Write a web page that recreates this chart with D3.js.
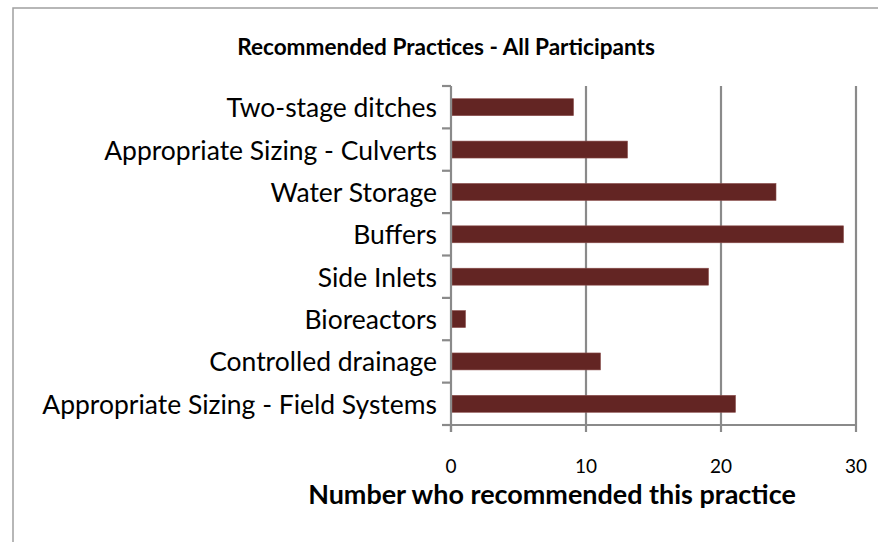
<!DOCTYPE html>
<html>
<head>
<meta charset="utf-8">
<script src="https://cdn.jsdelivr.net/npm/d3@7"></script>
<style>
  body { margin: 0; background: #fff; }
  svg { display: block; }
  text { font-family: Lato, "Open Sans", sans-serif; fill: #000; }
</style>
</head>
<body>
<svg id="chart"></svg>
<script>
var W = 878, H = 542;

// data, top to bottom as drawn
var practices = ["Two-stage ditches", "Appropriate Sizing - Culverts", "Water Storage", "Buffers",
                 "Side Inlets", "Bioreactors", "Controlled drainage", "Appropriate Sizing - Field Systems"];
var counts = [9, 13, 24, 29, 19, 1, 11, 21];
var xTicks = [0, 10, 20, 30];
var chartTitle = "Recommended Practices - All Participants";
var xTitle = "Number who recommended this practice";

var pLeft = 451, pRight = 856, pTop = 86, pBottom = 425;
var gridCol = "#8a8a8a";

var svg = d3.select("#chart").attr("width", W).attr("height", H);

// outer frame (runs off the right and bottom edge)
svg.append("rect").attr("x", 13).attr("y", 8).attr("width", W + 20).attr("height", H + 20)
  .attr("fill", "#fff").attr("stroke", "#a0a0a0").attr("stroke-width", 1.5);

var x = d3.scaleLinear().domain([0, 30]).range([pLeft, pRight]);
var y = d3.scaleBand().domain(practices).range([pTop, pBottom]).paddingInner(0.6).paddingOuter(0.3);

// fit helper: scale font size so the text gets a target width
function fit(sel, target) {
  var fs = parseFloat(sel.style("font-size"));
  var len = sel.node().getComputedTextLength();
  sel.style("font-size", (fs * target / len) + "px");
}

// vertical gridlines
svg.append("g").selectAll("line").data(xTicks.slice(1)).join("line")
  .attr("x1", d => x(d)).attr("x2", d => x(d)).attr("y1", pTop).attr("y2", pBottom)
  .attr("stroke", gridCol).attr("stroke-width", 2.2);

// bars
svg.append("g").selectAll("rect").data(practices).join("rect")
  .attr("x", x(0) + 1)
  .attr("y", d => y(d))
  .attr("width", (d, i) => x(counts[i]) - x(0))
  .attr("height", y.bandwidth())
  .attr("fill", "#632523")
  .attr("stroke", "#8a4d4b").attr("stroke-width", 0.6);

// y axis line + boundary ticks
var bounds = d3.range(practices.length + 1).map(i => pTop + i * (pBottom - pTop) / practices.length);
var gy = svg.append("g");
gy.append("line").attr("x1", pLeft).attr("x2", pLeft).attr("y1", pTop).attr("y2", pBottom + 7)
  .attr("stroke", gridCol).attr("stroke-width", 2.2);
gy.selectAll("line.t").data(bounds).join("line").attr("class", "t")
  .attr("x1", pLeft - 9).attr("x2", pLeft).attr("y1", d => d).attr("y2", d => d)
  .attr("stroke", gridCol).attr("stroke-width", 2.2);

// x axis line + ticks
var gx = svg.append("g");
gx.append("line").attr("x1", pLeft - 9).attr("x2", pRight).attr("y1", pBottom).attr("y2", pBottom)
  .attr("stroke", gridCol).attr("stroke-width", 2.2);
gx.selectAll("line.t").data(xTicks).join("line").attr("class", "t")
  .attr("x1", d => x(d)).attr("x2", d => x(d)).attr("y1", pBottom).attr("y2", pBottom + 7)
  .attr("stroke", gridCol).attr("stroke-width", 2.2);
gx.selectAll("text").data(xTicks).join("text")
  .attr("x", d => x(d)).attr("y", 465).attr("text-anchor", "middle").attr("dominant-baseline", "central")
  .style("font-size", "19px").text(d => d);

// category labels
var labels = svg.append("g").selectAll("text").data(practices).join("text")
  .attr("x", 437).attr("y", d => y(d) + y.bandwidth() / 2)
  .attr("text-anchor", "end").attr("dominant-baseline", "central")
  .style("font-size", "20px").text(d => d);
var longest = labels.filter((d, i) => i === practices.length - 1);
var len0 = longest.node().getComputedTextLength();
labels.style("font-size", (20 * 395 / len0) + "px");

// title
var t = svg.append("text").attr("x", 446).attr("y", 46).attr("text-anchor", "middle")
  .attr("dominant-baseline", "central").style("font-size", "19px").style("font-weight", "bold")
  .text(chartTitle);
fit(t, 418);

// x axis title
var xt = svg.append("text").attr("x", 552).attr("y", 493).attr("text-anchor", "middle")
  .attr("dominant-baseline", "central").style("font-size", "21px").style("font-weight", "bold")
  .text(xTitle);
fit(xt, 488);
</script>
</body>
</html>
